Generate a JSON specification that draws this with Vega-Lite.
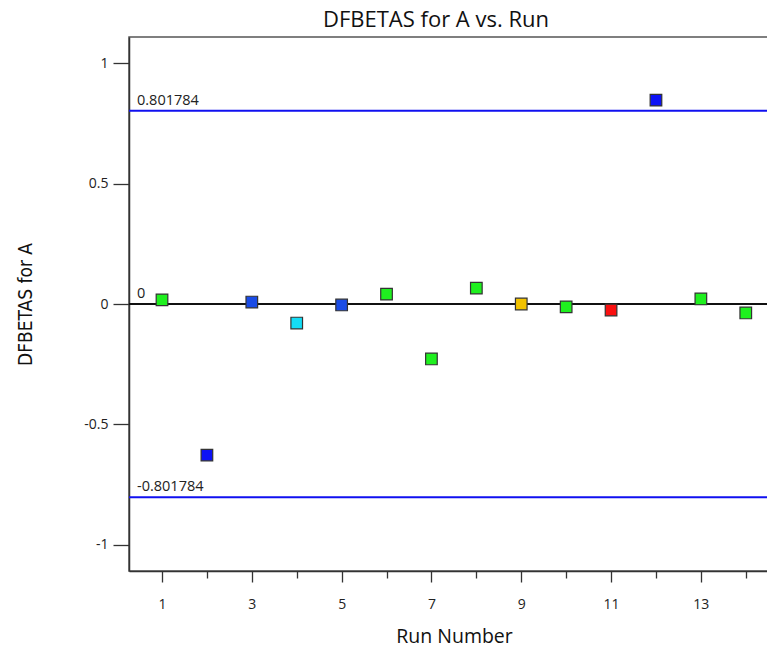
{
  "$schema": "https://vega.github.io/schema/vega-lite/v6.json",
  "autosize": {"type": "none"},
  "padding": {"left": 129, "top": 37, "right": 0, "bottom": 77},
  "width": 650,
  "height": 534,
  "background": "white",
  "title": {
    "text": "DFBETAS for A vs. Run",
    "font": "Open Sans",
    "fontSize": 22,
    "fontWeight": "normal",
    "color": "#111111",
    "dx": -18,
    "offset": 5
  },
  "config": {
    "view": {"stroke": "#555555", "strokeWidth": 1.5},
    "axis": {
      "grid": false,
      "domainColor": "#333333",
      "domainWidth": 1.5,
      "tickColor": "#333333",
      "tickWidth": 1.3,
      "labelFont": "Open Sans",
      "labelFontSize": 14,
      "labelColor": "#222222",
      "titleFont": "Open Sans",
      "titleFontWeight": "normal",
      "titleColor": "#111111"
    }
  },
  "datasets": {
    "runs": [
      {"run": 1, "dfbetas": 0.017, "level": "g"},
      {"run": 2, "dfbetas": -0.627, "level": "b"},
      {"run": 3, "dfbetas": 0.008, "level": "m"},
      {"run": 4, "dfbetas": -0.079, "level": "c"},
      {"run": 5, "dfbetas": -0.004, "level": "m"},
      {"run": 6, "dfbetas": 0.041, "level": "g"},
      {"run": 7, "dfbetas": -0.228, "level": "g"},
      {"run": 8, "dfbetas": 0.066, "level": "g"},
      {"run": 9, "dfbetas": 0.0, "level": "y"},
      {"run": 10, "dfbetas": -0.012, "level": "g"},
      {"run": 11, "dfbetas": -0.025, "level": "r"},
      {"run": 12, "dfbetas": 0.846, "level": "b"},
      {"run": 13, "dfbetas": 0.021, "level": "g"},
      {"run": 14, "dfbetas": -0.037, "level": "g"}
    ],
    "limits": [
      {"limit": 0.801784, "label": "0.801784", "kind": "bound"},
      {"limit": 0, "label": "0", "kind": "center"},
      {"limit": -0.801784, "label": "-0.801784", "kind": "bound"}
    ]
  },
  "layer": [
    {
      "data": {"name": "limits"},
      "mark": {"type": "rule", "strokeWidth": 2},
      "encoding": {
        "y": {"field": "limit", "type": "quantitative", "scale": {"domain": [-1.108, 1.108], "nice": false, "zero": false}},
        "color": {
          "field": "kind",
          "type": "nominal",
          "scale": {"domain": ["bound", "center"], "range": ["#1010f0", "#111111"]},
          "legend": null
        }
      }
    },
    {
      "data": {"name": "limits"},
      "mark": {"type": "text", "align": "left", "baseline": "bottom", "dx": 8, "dy": -3, "font": "Open Sans", "fontSize": 14.5, "color": "#222222"},
      "encoding": {
        "x": {"value": 0},
        "y": {"field": "limit", "type": "quantitative"},
        "text": {"field": "label"}
      }
    },
    {
      "data": {"name": "runs"},
      "mark": {"type": "point", "shape": "square", "filled": true, "size": 135, "stroke": "#333333", "strokeWidth": 1.2, "opacity": 1},
      "encoding": {
        "x": {
          "field": "run",
          "type": "quantitative",
          "scale": {"domain": [0.265, 14.74], "nice": false, "zero": false},
          "axis": {
            "title": "Run Number",
            "titleFontSize": 19.5,
            "titleY": 65,
            "titleBaseline": "middle",
            "values": [1, 2, 3, 4, 5, 6, 7, 8, 9, 10, 11, 12, 13, 14],
            "labelExpr": "datum.value % 2 === 1 ? datum.label : ''",
            "tickSize": {"condition": {"test": "datum.value % 2 === 1", "value": 11}, "value": 7},
            "labelPadding": 15
          }
        },
        "y": {
          "field": "dfbetas",
          "type": "quantitative",
          "axis": {
            "title": "DFBETAS for A",
            "titleFont": "DejaVu Sans Condensed, Liberation Sans Narrow, Open Sans",
            "titleFontSize": 19,
            "titleX": -104,
            "titleY": 267,
            "titleAlign": "center",
            "titleBaseline": "middle",
            "values": [-1, -0.5, 0, 0.5, 1],
            "labelExpr": "toString(datum.value)",
            "tickSize": 16,
            "labelPadding": 5
          }
        },
        "fill": {
          "field": "level",
          "type": "nominal",
          "scale": {
            "domain": ["g", "b", "m", "c", "y", "r"],
            "range": ["#1ff01f", "#0d12f5", "#1a4ce6", "#14dcf5", "#f2c200", "#fa1010"]
          },
          "legend": null
        }
      }
    }
  ]
}
